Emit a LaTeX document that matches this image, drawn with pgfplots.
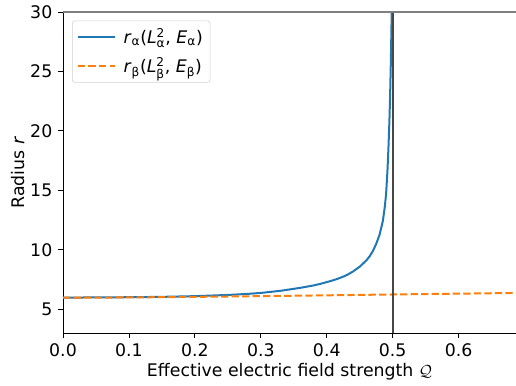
\documentclass[border=0pt]{standalone}
\usepackage{fontspec}
\setmainfont{DejaVu Sans}
\usepackage{amsmath}
\usepackage{pgfplots}
\pgfplotsset{compat=1.18}
\definecolor{mplblue}{HTML}{1F77B4}
\definecolor{mplorange}{HTML}{FF7F0E}
\newcommand{\al}{\text{α}}
\newcommand{\be}{\text{β}}
\newcommand{\fs}{\fontsize{13}{15}\selectfont}
\begin{document}
\fs
\begin{tikzpicture}
\begin{axis}[
  scale only axis,
  width=339.75pt, height=240.75pt,
  xmin=0, xmax=0.687, ymin=3, ymax=30,
  axis x line*=bottom, axis y line*=left,
  axis line style={black, line width=0.6pt},
  clip=false,
  xtick={0,0.1,0.2,0.3,0.4,0.5,0.6},
  ytick={5,10,15,20,25,30},
  tick align=outside,
  major tick length=3.5pt,
  tick style={black, line width=0.6pt},
  xticklabel style={/pgf/number format/.cd, fixed, fixed zerofill, precision=1},
  /pgf/number format/assume math mode=true,
  ticklabel style={font=\fs},
  xlabel={Effective electric field strength $\mathcal{Q}$},
  ylabel={Radius \textit{r}},
  xlabel style={font=\fs, at={(axis description cs:0.5,0)}, anchor=center, yshift=-29pt},
  ylabel style={font=\fs, at={(axis description cs:0,0.5)}, anchor=center, yshift=33.75pt},
  legend cell align=left,
  legend style={at={(rel axis cs:0,1)}, anchor=north west, xshift=6.75pt, yshift=-6.5pt,
    draw=black!18, rounded corners=2pt, fill=white, font=\fs,
    inner sep=3.5pt, row sep=5pt, column sep=4pt},
  legend image code/.code={\draw[#1] (0pt,0pt) -- (27.5pt,0pt);},
]
\addlegendimage{draw=mplblue, line width=1.5pt}
\addlegendentry{\textit{r}$_{\al}$(\textit{L}$^{\text{2}}_{\al}$, \textit{E}$_{\al}$)}
\addlegendimage{draw=mplorange, line width=1.5pt, dash pattern=on 5.5pt off 2.4pt}
\addlegendentry{\textit{r}$_{\be}$(\textit{L}$^{\text{2}}_{\be}$, \textit{E}$_{\be}$)}
\addplot[draw=mplblue, line width=1.5pt, line join=round, forget plot] coordinates {
(0,5.98) (0.05,5.99) (0.1,6.01) (0.15,6.04) (0.2,6.1) (0.25,6.2) (0.28,6.29) (0.3,6.37)
(0.33,6.55) (0.36,6.8) (0.38,7.0) (0.39,7.13) (0.4,7.28) (0.41,7.44) (0.42,7.63)
(0.43,7.86) (0.44,8.18) (0.45,8.58) (0.46,9.1) (0.465,9.45) (0.47,9.9) (0.475,10.5)
(0.48,11.25) (0.485,12.4) (0.488,13.6) (0.49,14.7) (0.492,16.6) (0.4935,18.5)
(0.495,20.8) (0.496,22.8) (0.497,25.3) (0.498,28.3) (0.4985,30)
};
\addplot[draw=mplorange, line width=1.5pt, dash pattern=on 5.5pt off 2.4pt, forget plot] coordinates {
(0,5.97) (0.1,5.99) (0.2,6.04) (0.3,6.1) (0.4,6.17) (0.5,6.24) (0.6,6.31) (0.687,6.37)
};
\addplot[draw=black!72, line width=1.5pt, forget plot] coordinates {(0.5,3) (0.5,30)};
\addplot[draw=black!50, line width=1.4pt, forget plot] coordinates {(0,30) (0.687,30)};
\end{axis}
\pgfresetboundingbox
\path[use as bounding box] ([shift={(-47.25pt,-39pt)}]current axis.south west) rectangle ([shift={(0pt,9pt)}]current axis.north east);
\end{tikzpicture}
\end{document}
